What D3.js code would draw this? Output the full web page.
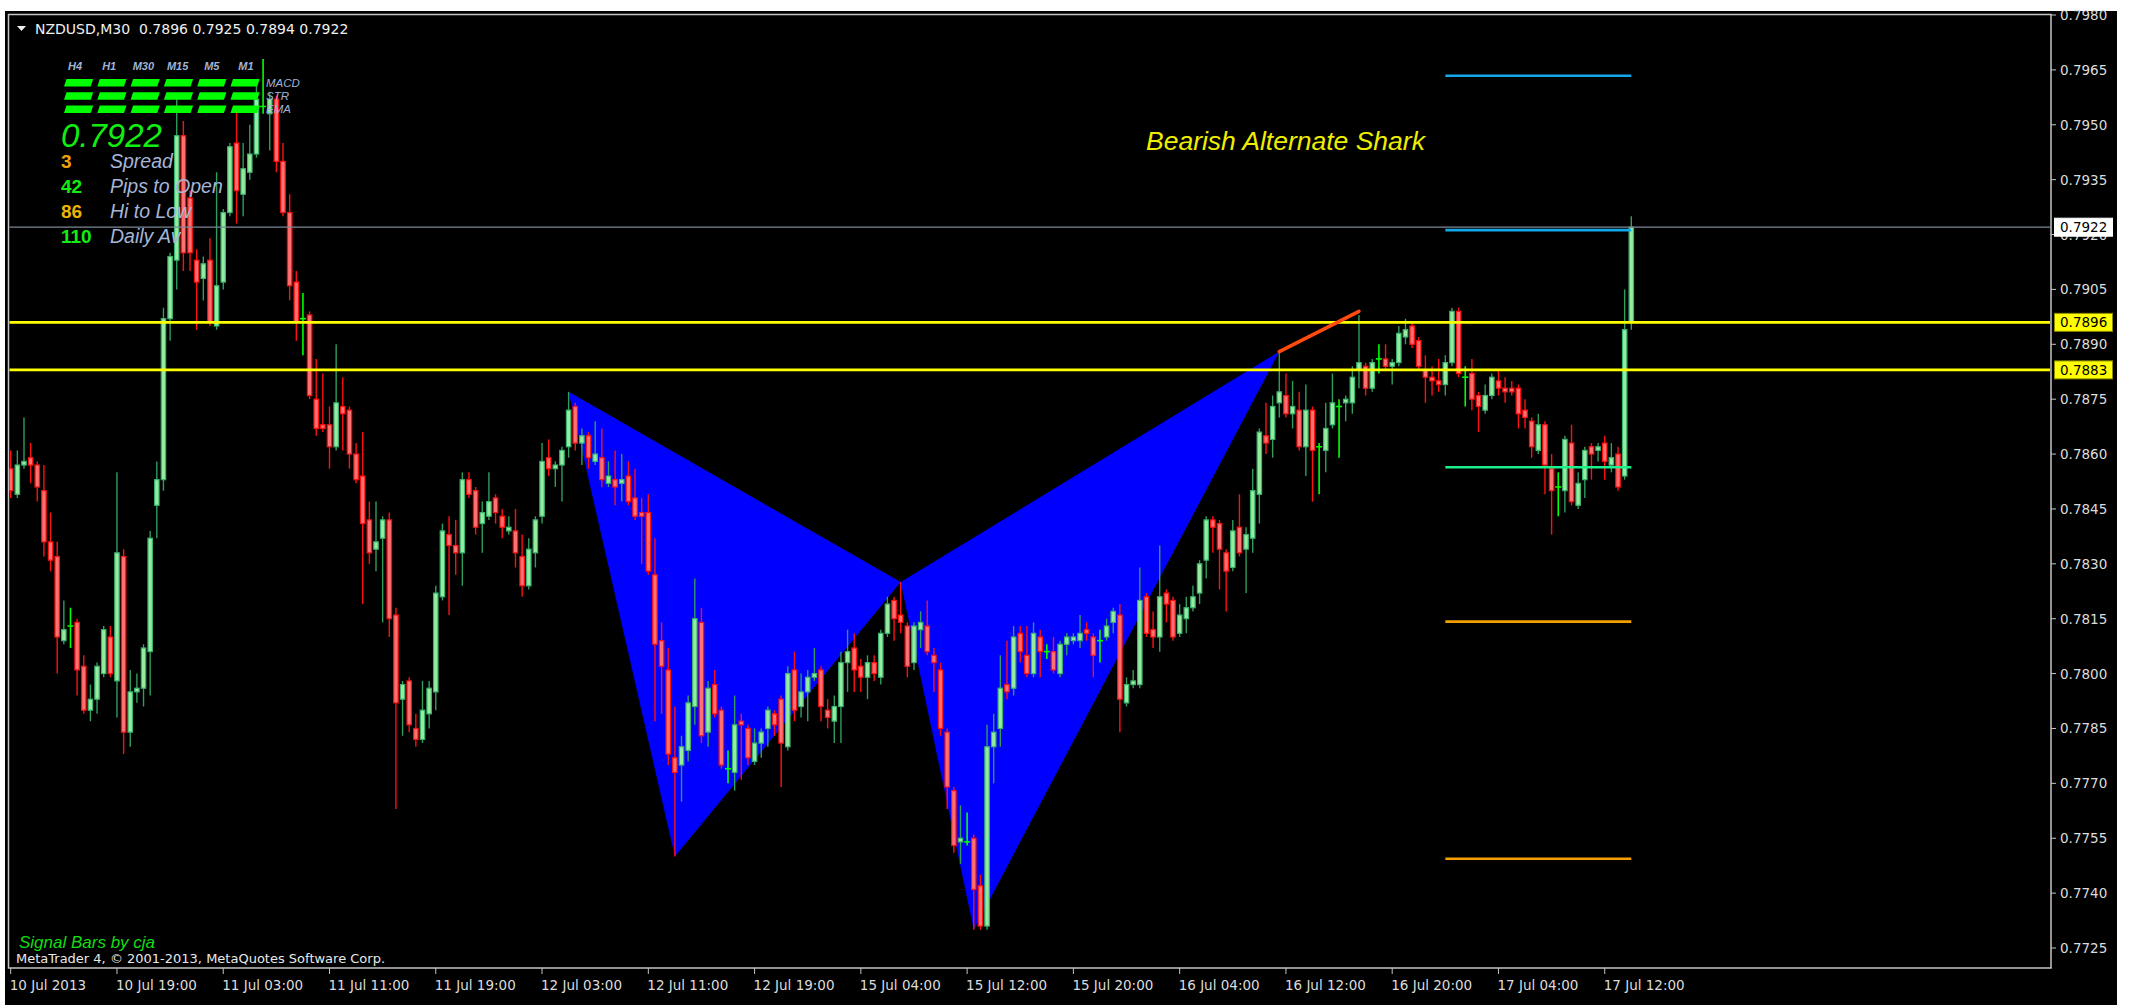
<!DOCTYPE html>
<html>
<head>
<meta charset="utf-8">
<script src="https://cdn.jsdelivr.net/npm/d3@7"></script>
<style>
  html, body { margin: 0; padding: 0; background: #ffffff; }
  svg { display: block; }
  text { white-space: pre; }
</style>
</head>
<body>
<script>
// ---- NZDUSD M30 candles, bar 0 = 10 Jul 2013 11:00 ----
const opens = [
0.7856,0.7849,0.7857,0.7859,0.7857,0.7850,0.7836,0.7832,0.7809,0.7813,
0.7814,0.7802,0.7790,0.7793,0.7800,0.7810,0.7798,0.7832,0.7784,0.7795,
0.7796,0.7806,0.7846,0.7853,0.7897,0.7913,0.7947,0.7930,0.7913,0.7908,
0.7913,0.7895,0.7907,0.7926,0.7945,0.7931,0.7937,0.7942,0.7955,0.7953,
0.7957,0.7940,0.7926,0.7907,0.7897,0.7898,0.7875,0.7868,0.7868,0.7862,
0.7873,0.7872,0.7860,0.7854,0.7842,0.7834,0.7837,0.7842,0.7816,0.7793,
0.7798,0.7785,0.7782,0.7789,0.7795,0.7821,0.7838,0.7835,0.7833,0.7853,
0.7850,0.7841,0.7843,0.7848,0.7843,0.7839,0.7839,0.7832,0.7824,0.7833,
0.7843,0.7859,0.7856,0.7857,0.7862,0.7873,0.7863,0.7865,0.7858,0.7859,
0.7852,0.7853,0.7852,0.7854,0.7848,0.7844,0.7844,0.7827,0.7809,0.7801,
0.7777,0.7775,0.7779,0.7791,0.7814,0.7784,0.7797,0.7790,0.7774,0.7773,
0.7787,0.7785,0.7776,0.7781,0.7785,0.7789,0.7793,0.7780,0.7801,0.7791,
0.7795,0.7799,0.7801,0.7790,0.7787,0.7791,0.7803,0.7807,0.7802,0.7799,
0.7803,0.7799,0.7811,0.7820,0.7816,0.7813,0.7803,0.7812,0.7813,0.7805,
0.7801,0.7784,0.7768,0.7754,0.7754,0.7755,0.7742,0.7731,0.7780,0.7785,
0.7797,0.7796,0.7811,0.7805,0.7800,0.7810,0.7806,0.7806,0.7800,0.7808,
0.7809,0.7809,0.7812,0.7810,0.7809,0.7810,0.7814,0.7816,0.7792,0.7797,
0.7797,0.7821,0.7812,0.7810,0.7822,0.7820,0.7811,0.7815,0.7818,0.7822,
0.7831,0.7842,0.7841,0.7833,0.7829,0.7840,0.7834,0.7837,0.7849,0.7865,
0.7864,0.7874,0.7876,0.7871,0.7872,0.7862,0.7872,0.7862,0.7861,0.7868,
0.7873,0.7874,0.7874,0.7883,0.7884,0.7878,0.7886,0.7886,0.7884,0.7885,
0.7892,0.7895,0.7891,0.7883,0.7881,0.7880,0.7879,0.7885,0.7899,0.7881,
0.7882,0.7876,0.7872,0.7876,0.7880,0.7878,0.7878,0.7878,0.7872,0.7869,
0.7861,0.7868,0.7856,0.7851,0.7850,0.7863,0.7846,0.7853,0.7862,0.7861,
0.7863,0.7857,0.7860,0.7854,0.7896];
const highs = [
0.7861,0.7861,0.7870,0.7863,0.7858,0.7857,0.7844,0.7836,0.7820,0.7818,
0.7815,0.7805,0.7797,0.7803,0.7813,0.7813,0.7855,0.7834,0.7801,0.7800,
0.7808,0.7839,0.7858,0.7900,0.7915,0.7957,0.7951,0.7932,0.7916,0.7914,
0.7919,0.7937,0.7927,0.7945,0.7955,0.7945,0.7950,0.7961,0.7968,0.7959,
0.7958,0.7945,0.7931,0.7910,0.7904,0.7899,0.7886,0.7882,0.7873,0.7890,
0.7881,0.7873,0.7863,0.7866,0.7847,0.7847,0.7843,0.7844,0.7818,0.7798,
0.7799,0.7789,0.7798,0.7798,0.7824,0.7841,0.7843,0.7842,0.7855,0.7855,
0.7851,0.7847,0.7855,0.7849,0.7845,0.7843,0.7845,0.7838,0.7837,0.7843,
0.7863,0.7864,0.7858,0.7862,0.7877,0.7874,0.7867,0.7866,0.7869,0.7867,
0.7858,0.7861,0.7860,0.7858,0.7856,0.7848,0.7849,0.7837,0.7814,0.7807,
0.7791,0.7783,0.7794,0.7826,0.7818,0.7798,0.7801,0.7791,0.7779,0.7794,
0.7789,0.7786,0.7785,0.7785,0.7791,0.7790,0.7794,0.7802,0.7806,0.7800,
0.7801,0.7807,0.7802,0.7793,0.7794,0.7806,0.7812,0.7811,0.7804,0.7805,
0.7805,0.7812,0.7821,0.7821,0.7825,0.7814,0.7814,0.7817,0.7820,0.7807,
0.7803,0.7785,0.7769,0.7764,0.7762,0.7756,0.7745,0.7786,0.7789,0.7805,
0.7809,0.7813,0.7813,0.7813,0.7814,0.7812,0.7808,0.7810,0.7809,0.7811,
0.7811,0.7816,0.7814,0.7811,0.7812,0.7815,0.7818,0.7819,0.7799,0.7801,
0.7829,0.7822,0.7817,0.7835,0.7823,0.7821,0.7819,0.7821,0.7824,0.7831,
0.7843,0.7843,0.7842,0.7834,0.7842,0.7849,0.7840,0.7856,0.7867,0.7874,
0.7876,0.7888,0.7882,0.7880,0.7877,0.7879,0.7873,0.7863,0.7874,0.7882,
0.7875,0.7876,0.7884,0.7898,0.7885,0.7886,0.7890,0.7890,0.7886,0.7895,
0.7897,0.7896,0.7892,0.7887,0.7884,0.7886,0.7887,0.7900,0.7900,0.7884,
0.7886,0.7877,0.7879,0.7882,0.7883,0.7881,0.7880,0.7879,0.7875,0.7870,
0.7871,0.7869,0.7860,0.7855,0.7865,0.7868,0.7855,0.7862,0.7863,0.7863,
0.7865,0.7863,0.7862,0.7905,0.7925];
const lows = [
0.7848,0.7848,0.7856,0.7852,0.7847,0.7832,0.7828,0.7800,0.7808,0.7807,
0.7794,0.7789,0.7787,0.7789,0.7799,0.7799,0.7788,0.7778,0.7780,0.7792,
0.7791,0.7794,0.7837,0.7850,0.7891,0.7905,0.7910,0.7910,0.7894,0.7902,
0.7895,0.7894,0.7905,0.7925,0.7923,0.7925,0.7935,0.7941,0.7953,0.7943,
0.7937,0.7925,0.7902,0.7891,0.7887,0.7875,0.7865,0.7866,0.7856,0.7861,
0.7861,0.7856,0.7852,0.7819,0.7830,0.7828,0.7814,0.7810,0.7763,0.7783,
0.7784,0.7780,0.7781,0.7785,0.7790,0.7820,0.7816,0.7827,0.7824,0.7848,
0.7838,0.7833,0.7842,0.7841,0.7837,0.7838,0.7829,0.7821,0.7823,0.7829,
0.7841,0.7854,0.7851,0.7847,0.7859,0.7861,0.7857,0.7856,0.7857,0.7851,
0.7851,0.7846,0.7847,0.7846,0.7842,0.7830,0.7827,0.7787,0.7789,0.7775,
0.7750,0.7765,0.7776,0.7786,0.7781,0.7780,0.7788,0.7774,0.7770,0.7768,
0.7771,0.7775,0.7775,0.7777,0.7780,0.7783,0.7769,0.7779,0.7787,0.7788,
0.7787,0.7798,0.7787,0.7785,0.7781,0.7781,0.7795,0.7795,0.7795,0.7793,
0.7798,0.7797,0.7810,0.7809,0.7811,0.7799,0.7801,0.7807,0.7805,0.7795,
0.7783,0.7763,0.7751,0.7748,0.7753,0.7730,0.7730,0.7730,0.7770,0.7780,
0.7793,0.7794,0.7803,0.7799,0.7799,0.7799,0.7804,0.7800,0.7799,0.7805,
0.7808,0.7807,0.7809,0.7799,0.7803,0.7809,0.7811,0.7784,0.7791,0.7796,
0.7796,0.7810,0.7807,0.7806,0.7814,0.7809,0.7810,0.7811,0.7817,0.7819,
0.7826,0.7833,0.7823,0.7817,0.7828,0.7832,0.7822,0.7833,0.7841,0.7860,
0.7859,0.7870,0.7870,0.7867,0.7861,0.7854,0.7847,0.7849,0.7855,0.7867,
0.7859,0.7869,0.7871,0.7878,0.7876,0.7877,0.7882,0.7883,0.7879,0.7884,
0.7890,0.7889,0.7883,0.7874,0.7876,0.7877,0.7876,0.7884,0.7881,0.7873,
0.7872,0.7866,0.7871,0.7875,0.7876,0.7874,0.7876,0.7867,0.7867,0.7859,
0.7860,0.7849,0.7838,0.7843,0.7844,0.7846,0.7845,0.7848,0.7853,0.7858,
0.7853,0.7855,0.7850,0.7853,0.7894];
const closes = [
0.7850,0.7857,0.7858,0.7857,0.7851,0.7836,0.7831,0.7810,0.7812,0.7813,
0.7801,0.7790,0.7793,0.7802,0.7812,0.7800,0.7833,0.7784,0.7795,0.7796,
0.7807,0.7837,0.7853,0.7897,0.7914,0.7947,0.7915,0.7915,0.7907,0.7912,
0.7896,0.7906,0.7926,0.7944,0.7932,0.7938,0.7942,0.7957,0.7955,0.7957,
0.7940,0.7926,0.7906,0.7896,0.7897,0.7876,0.7867,0.7867,0.7862,0.7874,
0.7871,0.7860,0.7853,0.7841,0.7833,0.7836,0.7842,0.7815,0.7792,0.7797,
0.7786,0.7782,0.7790,0.7796,0.7822,0.7839,0.7835,0.7833,0.7853,0.7849,
0.7840,0.7844,0.7847,0.7844,0.7840,0.7840,0.7833,0.7824,0.7834,0.7842,
0.7858,0.7856,0.7857,0.7861,0.7872,0.7863,0.7865,0.7859,0.7860,0.7853,
0.7854,0.7851,0.7853,0.7847,0.7843,0.7843,0.7828,0.7808,0.7802,0.7778,
0.7773,0.7780,0.7792,0.7815,0.7783,0.7796,0.7789,0.7775,0.7774,0.7786,
0.7786,0.7777,0.7781,0.7784,0.7790,0.7786,0.7781,0.7800,0.7790,0.7795,
0.7799,0.7800,0.7791,0.7788,0.7791,0.7803,0.7806,0.7801,0.7799,0.7803,
0.7800,0.7811,0.7819,0.7815,0.7814,0.7802,0.7813,0.7814,0.7806,0.7803,
0.7785,0.7769,0.7753,0.7755,0.7754,0.7741,0.7731,0.7780,0.7784,0.7796,
0.7795,0.7810,0.7806,0.7800,0.7811,0.7806,0.7806,0.7801,0.7808,0.7810,
0.7810,0.7811,0.7811,0.7805,0.7809,0.7813,0.7817,0.7793,0.7797,0.7798,
0.7820,0.7811,0.7810,0.7821,0.7819,0.7810,0.7816,0.7818,0.7821,0.7830,
0.7842,0.7840,0.7834,0.7828,0.7839,0.7833,0.7838,0.7850,0.7866,0.7863,
0.7873,0.7877,0.7871,0.7873,0.7862,0.7872,0.7861,0.7862,0.7867,0.7874,
0.7873,0.7875,0.7881,0.7885,0.7878,0.7885,0.7886,0.7884,0.7885,0.7893,
0.7894,0.7890,0.7884,0.7881,0.7880,0.7879,0.7885,0.7899,0.7882,0.7881,
0.7875,0.7873,0.7876,0.7881,0.7878,0.7877,0.7877,0.7871,0.7870,0.7862,
0.7868,0.7857,0.7850,0.7851,0.7864,0.7847,0.7852,0.7861,0.7860,0.7862,
0.7858,0.7859,0.7851,0.7894,0.7922];

// time axis labels, one every 16 bars
const timeLabels = ["10 Jul 2013","10 Jul 19:00","11 Jul 03:00","11 Jul 11:00","11 Jul 19:00",
  "12 Jul 03:00","12 Jul 11:00","12 Jul 19:00","15 Jul 04:00","15 Jul 12:00","15 Jul 20:00",
  "16 Jul 04:00","16 Jul 12:00","16 Jul 20:00","17 Jul 04:00","17 Jul 12:00"];
const barsPerLabel = 16;

// price axis labels
const priceTicks = [0.7980,0.7965,0.7950,0.7935,0.7920,0.7905,0.7890,0.7875,0.7860,
  0.7845,0.7830,0.7815,0.7800,0.7785,0.7770,0.7755,0.7740,0.7725];

// harmonic pattern points: [bar, price]
const sharkLeg1 = [[84,0.7877],[100,0.7750],[134,0.7825]];
const sharkLeg2 = [[134,0.7825],[145,0.7730],[191,0.7888]];
const projection = [[191,0.7888],[203,0.7899]];

// horizontal levels
const hLines = [0.7896, 0.7883];
const lastPrice = 0.7922;
const targetLevels = [
  {p:0.79634, c:"#12a8e8"}, {p:0.79212, c:"#12a8e8"},
  {p:0.78564, c:"#1cf08a"},
  {p:0.78142, c:"#f5a000"}, {p:0.77494, c:"#f5a000"}];
const targetFrom = 216, targetTo = 244;

// indicator panel contents
const frames = ["H4","H1","M30","M15","M5","M1"];
const signalNames = ["MACD","STR","EMA"];
const statValues = ["3","42","86","110"];
const statNames = ["Spread","Pips to Open","Hi to Low","Daily Av"];
const statColors = ["#f0a20a","#12ee12","#eab20a","#12ee12"];

// ---------------------------------------------------------------
const W = 2137, H = 1005;
const L = 8.5, T = 14.5, R = 2051, B = 968;

const x = d3.scaleLinear().domain([0, 244]).range([10.7, 1631.3]);
const y = d3.scaleLinear().domain([0.7725, 0.7980]).range([948, 15]);

const svg = d3.select("body").append("svg").attr("width", W).attr("height", H);

svg.append("rect").attr("width", W).attr("height", H).attr("fill", "#ffffff");
svg.append("rect").attr("x", 5).attr("y", 11).attr("width", 2112).attr("height", 994).attr("fill", "#000000");

const defs = svg.append("defs");
defs.append("clipPath").attr("id", "plot")
  .append("rect").attr("x", L + 1).attr("y", T + 1).attr("width", R - L - 2).attr("height", B - T - 2);

const plot = svg.append("g").attr("clip-path", "url(#plot)");

// filled pattern triangles (background objects)
const pt = d => [x(d[0]), y(d[1])];
[sharkLeg1, sharkLeg2].forEach(tri => {
  plot.append("polygon")
    .attr("points", tri.map(d => pt(d).join(",")).join(" "))
    .attr("fill", "#0000ff");
});

// indicator panel text (under the candles)
const panel = svg.append("g").attr("font-family", "'Liberation Sans', Arial, sans-serif");
panel.selectAll("text.tf").data(frames).join("text")
  .attr("x", (d, i) => 75 + i * 34.2)
  .attr("y", 70).attr("text-anchor", "middle")
  .attr("font-size", 11).attr("font-style", "italic").attr("font-weight", "bold")
  .attr("fill", "#9fb2d6").text(d => d);
for (let r = 0; r < 3; r++) {
  for (let c = 0; c < frames.length; c++) {
    const x0 = 65 + c * 33.3, yc = 82.7 + r * 13.3, w = 26.7, h = 7.5;
    panel.append("polygon")
      .attr("points", [[x0 + 1.5, yc - h / 2], [x0 + w + 1.5, yc - h / 2], [x0 + w - 1, yc + h / 2], [x0 - 1, yc + h / 2]].map(p => p.join(",")).join(" "))
      .attr("fill", "#00ff00");
  }
}
panel.selectAll("text.sig").data(signalNames).join("text")
  .attr("x", 266).attr("y", (d, i) => 86.5 + i * 13.3)
  .attr("font-size", 11.5).attr("font-style", "italic")
  .attr("fill", "#9fb2d6").text(d => d);
panel.append("text").attr("x", 61).attr("y", 147)
  .attr("font-size", 33).attr("font-style", "italic").attr("fill", "#12ee12")
  .text(lastPrice.toFixed(4));
panel.selectAll("text.val").data(statValues).join("text")
  .attr("x", 61).attr("y", (d, i) => 168 + i * 25)
  .attr("font-size", 19).attr("font-weight", "bold")
  .attr("fill", (d, i) => statColors[i]).text(d => d);
panel.selectAll("text.lbl").data(statNames).join("text")
  .attr("x", 110).attr("y", (d, i) => 168 + i * 25)
  .attr("font-size", 19.5).attr("font-style", "italic")
  .attr("fill", "#a6b6d8").text(d => d);

// candles
const idx = d3.range(opens.length);
const bullStroke = "#3cb371", bullFill = "#95ec9f", bullWick = "#2f9d5c";
const bearStroke = "#ff1010", bearFill = "#ff7070", bearWick = "#ff1010";
const doji = "#00ff00";
const kind = i => closes[i] > opens[i] ? "bull" : (closes[i] < opens[i] ? "bear" : "doji");

const cg = plot.append("g");
cg.selectAll("line.wick").data(idx).join("line")
  .attr("x1", i => x(i)).attr("x2", i => x(i))
  .attr("y1", i => y(highs[i])).attr("y2", i => y(lows[i]))
  .attr("stroke", i => kind(i) === "bull" ? bullWick : kind(i) === "bear" ? bearWick : doji)
  .attr("stroke-width", i => kind(i) === "doji" ? 1.6 : 1.4);
cg.selectAll("rect.body").data(idx.filter(i => kind(i) !== "doji")).join("rect")
  .attr("x", i => x(i) - 2.2).attr("width", 4.4)
  .attr("y", i => y(Math.max(opens[i], closes[i])))
  .attr("height", i => Math.max(1, Math.abs(y(opens[i]) - y(closes[i]))))
  .attr("fill", i => kind(i) === "bull" ? bullFill : bearFill)
  .attr("stroke", i => kind(i) === "bull" ? bullStroke : bearStroke)
  .attr("stroke-width", 1.2);
cg.selectAll("line.dj").data(idx.filter(i => kind(i) === "doji")).join("line")
  .attr("x1", i => x(i) - 3).attr("x2", i => x(i) + 3)
  .attr("y1", i => y(opens[i])).attr("y2", i => y(opens[i]))
  .attr("stroke", doji).attr("stroke-width", 1.6);

// last price line
plot.append("line")
  .attr("x1", L).attr("x2", R).attr("y1", y(lastPrice)).attr("y2", y(lastPrice))
  .attr("stroke", "#7b8794").attr("stroke-width", 1.3);

// horizontal support / resistance lines
plot.selectAll("line.hl").data(hLines).join("line")
  .attr("x1", L).attr("x2", R).attr("y1", d => y(d)).attr("y2", d => y(d))
  .attr("stroke", "#ffff00").attr("stroke-width", 2.6);

// pattern targets
plot.selectAll("line.tg").data(targetLevels).join("line")
  .attr("x1", x(targetFrom)).attr("x2", x(targetTo))
  .attr("y1", d => y(d.p)).attr("y2", d => y(d.p))
  .attr("stroke", d => d.c).attr("stroke-width", 2.6);

// projection leg
plot.append("line")
  .attr("x1", x(projection[0][0])).attr("y1", y(projection[0][1]))
  .attr("x2", x(projection[1][0])).attr("y2", y(projection[1][1]))
  .attr("stroke", "#ff4a10").attr("stroke-width", 3.5).attr("stroke-linecap", "round");

// pattern name
svg.append("text").attr("x", 1146).attr("y", 150)
  .attr("font-family", "'Liberation Sans', Arial, sans-serif")
  .attr("font-size", 26.5).attr("font-style", "italic")
  .attr("fill", "#eeee00").text("Bearish Alternate Shark");

// chart frame
svg.append("rect").attr("x", L).attr("y", T).attr("width", R - L).attr("height", B - T)
  .attr("fill", "none").attr("stroke", "#c4c4c4").attr("stroke-width", 1.5);

// price axis
const axFont = "'DejaVu Sans', Verdana, sans-serif";
const ax = svg.append("g").attr("font-family", axFont).attr("font-size", 13.5).attr("fill", "#dcdcdc");
ax.selectAll("line").data(priceTicks).join("line")
  .attr("x1", R).attr("x2", R + 5).attr("y1", d => y(d)).attr("y2", d => y(d))
  .attr("stroke", "#c4c4c4").attr("stroke-width", 1);
ax.selectAll("text").data(priceTicks).join("text")
  .attr("x", R + 9).attr("y", d => y(d) + 5).text(d => d.toFixed(4));

// price tags on the axis
const tags = [{p: lastPrice, fill: "#ffffff", stroke: "#ffffff"}]
  .concat(hLines.map(p => ({p, fill: "#ffff00", stroke: "#8a8a00"})));
tags.forEach(t => {
  const g = svg.append("g");
  g.append("rect").attr("x", R + 3.5).attr("y", y(t.p) - 9).attr("width", 58).attr("height", 18)
    .attr("fill", t.fill).attr("stroke", t.stroke).attr("stroke-width", 1);
  g.append("text").attr("x", R + 9).attr("y", y(t.p) + 5)
    .attr("font-family", axFont).attr("font-size", 13.5).attr("fill", "#000000")
    .text(t.p.toFixed(4));
});

// time axis
const tx = svg.append("g").attr("font-family", axFont).attr("font-size", 13.5).attr("fill", "#dcdcdc");
tx.selectAll("line").data(timeLabels).join("line")
  .attr("x1", (d, i) => x(i * barsPerLabel)).attr("x2", (d, i) => x(i * barsPerLabel))
  .attr("y1", B).attr("y2", B + 6).attr("stroke", "#c4c4c4").attr("stroke-width", 1);
tx.selectAll("text").data(timeLabels).join("text")
  .attr("x", (d, i) => x(i * barsPerLabel) - 1).attr("y", 990).text(d => d);

// header
svg.append("polygon").attr("points", "17,26 26,26 21.5,31").attr("fill", "#f0f0f0");
svg.append("text").attr("x", 35).attr("y", 34)
  .attr("font-family", axFont).attr("font-size", 14).attr("fill", "#f0f0f0")
  .text("NZDUSD,M30  " + [opens[244], highs[244], lows[244], closes[244]].map(v => v.toFixed(4)).join(" "));

// footer credits
svg.append("text").attr("x", 19).attr("y", 948)
  .attr("font-family", "'Liberation Sans', Arial, sans-serif").attr("font-size", 17)
  .attr("font-style", "italic").attr("fill", "#12dd12").text("Signal Bars by cja");
svg.append("text").attr("x", 16).attr("y", 963)
  .attr("font-family", axFont).attr("font-size", 13).attr("fill", "#e8e8e8")
  .text("MetaTrader 4, \u00a9 2001-2013, MetaQuotes Software Corp.");
</script>
</body>
</html>
